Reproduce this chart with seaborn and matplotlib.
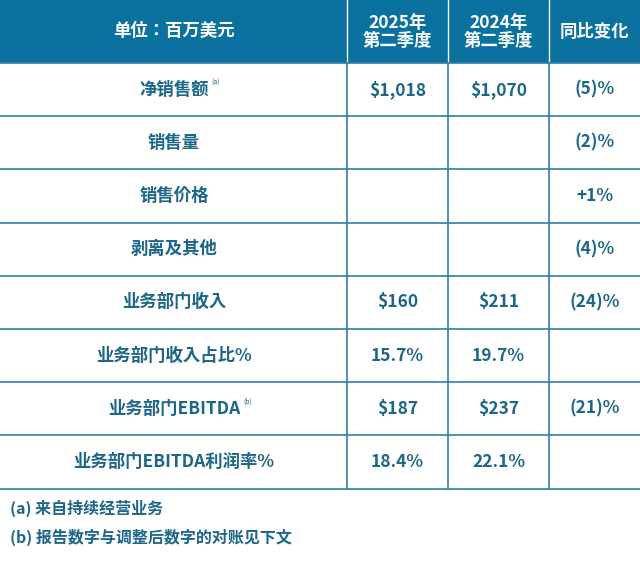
import matplotlib
matplotlib.use("Agg")
import matplotlib.pyplot as plt
import seaborn as sns
from matplotlib.patches import Rectangle

sns.set_theme(style="white")
plt.rcParams["font.family"] = "sans-serif"
plt.rcParams["font.sans-serif"] = ["Noto Sans CJK JP", "Noto Sans CJK SC", "Noto Sans CJK TC",
                                   "Noto Sans CJK KR", "DejaVu Sans"]

header = ["单位：百万美元", "2025年\n第二季度", "2024年\n第二季度", "同比变化"]
row_labels = ["净销售额", "销售量", "销售价格", "剥离及其他", "业务部门收入",
              "业务部门收入占比%", "业务部门EBITDA", "业务部门EBITDA利润率%"]
label_sup = ["(a)", "", "", "", "", "", "(b)", ""]
q2_2025 = ["$1,018", "", "", "", "$160", "15.7%", "$187", "18.4%"]
q2_2024 = ["$1,070", "", "", "", "$211", "19.7%", "$237", "22.1%"]
yoy = ["(5)%", "(2)%", "+1%", "(4)%", "(24)%", "", "(21)%", ""]
notes = ["(a) 来自持续经营业务", "(b) 报告数字与调整后数字的对账见下文"]

W, H = 640, 568
BLUE = "#0b72a0"
TXT = "#1c6688"
LINE = "#2f7fa6"
col_x = [0, 347, 448, 549, 640]
header_h = 63
row_h = 53.2

fig = plt.figure(figsize=(W / 100, H / 100), dpi=100)
ax = fig.add_axes([0, 0, 1, 1])
ax.set_xlim(0, W)
ax.set_ylim(H, 0)
ax.axis("off")

ax.add_patch(Rectangle((0, 0), W, header_h, color=BLUE, lw=0))
for i, h in enumerate(header):
    cx = (col_x[i] + col_x[i + 1]) / 2
    ax.text(cx, header_h / 2, h, ha="center", va="center", color="white",
            fontsize=12.5, fontweight="bold", linespacing=1.0)
for x in col_x[1:4]:
    ax.plot([x, x], [0, header_h], color="white", lw=1)

bottom = header_h + row_h * len(row_labels)
for j in range(len(row_labels) + 1):
    y = header_h + row_h * j
    ax.plot([0, W], [y, y], color=LINE, lw=1.2)
for x in col_x[1:4]:
    ax.plot([x, x], [header_h, bottom], color=LINE, lw=1.2)

for j, lab in enumerate(row_labels):
    cy = header_h + row_h * (j + 0.5)
    t = ax.text(174, cy, lab, ha="center", va="center", color=TXT,
                fontsize=12.5, fontweight="bold")
    if label_sup[j]:
        fig.canvas.draw()
        bb = t.get_window_extent()
        ax.text(bb.x1 + 3, cy - 7, label_sup[j], ha="left", va="center",
                color=TXT, fontsize=5)
    for k, vals in enumerate([q2_2025, q2_2024, yoy]):
        cx = (col_x[k + 1] + col_x[k + 2]) / 2
        ax.text(cx, cy, vals[j], ha="center", va="center", color=TXT,
                fontsize=12.5, fontweight="bold")

for i, n in enumerate(notes):
    ax.text(10, 508 + 29 * i, n, ha="left", va="center", color=TXT,
            fontsize=11.5, fontweight="bold")

fig.savefig("out.png", dpi=100, facecolor="white")
